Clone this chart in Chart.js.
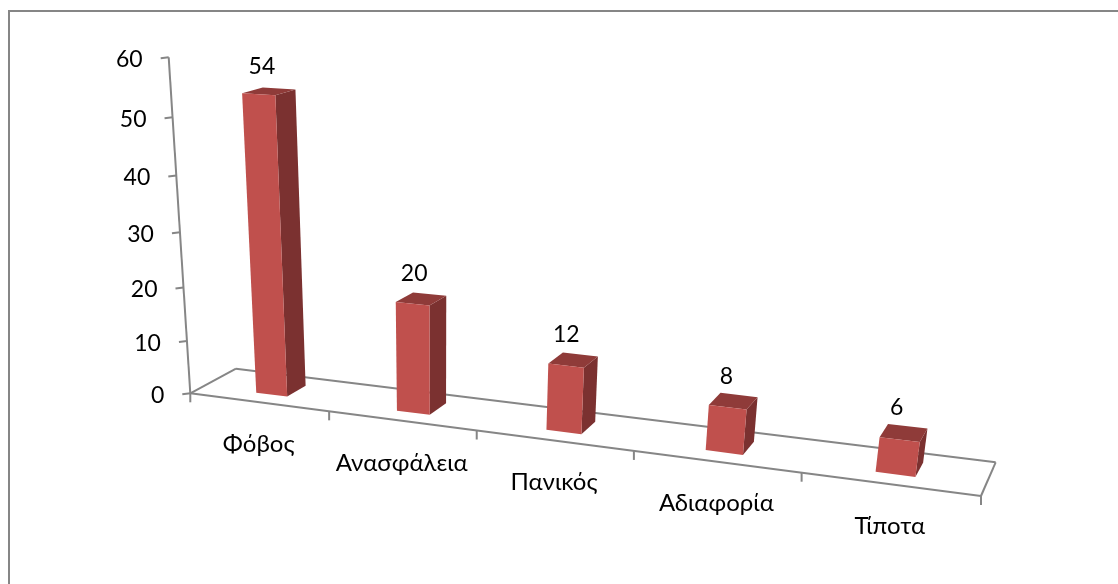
<!DOCTYPE html>
<html>
<head>
<meta charset="utf-8">
<title>Chart</title>
<style>
    html, body { margin: 0; padding: 0; background: #ffffff; }
    canvas { display: block; }
</style>
<script src="https://cdn.jsdelivr.net/npm/chart.js@4"></script>
</head>
<body>
<canvas id="chart" width="1118" height="584"></canvas>
<script>
const categories = ["Φόβος", "Ανασφάλεια", "Πανικός", "Αδιαφορία", "Τίποτα"];
const values = [54, 20, 12, 8, 6];
const axisMax = 60;
const axisStep = 10;

const LABEL_FONT = '24px Lato, "Noto Sans", sans-serif';
const NUMBER_FONT = '23px Lato, "Noto Sans", sans-serif';
const AXIS_COLOR = "#868686";
const BAR_FRONT = "#c0504d";
const BAR_SIDE = "#7b3130";
const BAR_TOP = "#8f3b39";
// depth of the bars on the floor, 0 = front edge, 1 = back edge
const BAR_DEPTH = [0.29, 0.72];

// Perspective camera: u along the category axis, v up the value axis, z into the floor (all 0..1)
function project(u, v, z) {
    const d = -0.148 * u - 0.08 * v + 0.0437 * z + 1;
    return [
        (645.5 * u - 35.1 * v + 56 * z + 190.3) / d,
        (29.3 * u - 340.6 * v - 8.5 * z + 393.3) / d,
    ];
}

function polygon(ctx, points, fill) {
    ctx.beginPath();
    points.forEach((p, i) => (i ? ctx.lineTo(p[0], p[1]) : ctx.moveTo(p[0], p[1])));
    ctx.closePath();
    ctx.fillStyle = fill;
    ctx.fill();
}

function segment(ctx, a, b) {
    ctx.beginPath();
    ctx.moveTo(a[0], a[1]);
    ctx.lineTo(b[0], b[1]);
    ctx.stroke();
}

const perspective3d = {
    id: "perspective3d",
    // frame, floor and both axes go under the bars
    beforeDatasetsDraw(chart) {
        const { ctx, scales } = chart;
        const { x: xScale, y: yScale } = scales;
        ctx.save();
        ctx.strokeStyle = AXIS_COLOR;

        // outer frame, the picture cuts it off at the right and the bottom
        ctx.lineWidth = 2;
        ctx.beginPath();
        ctx.moveTo(9, 584);
        ctx.lineTo(9, 11);
        ctx.lineTo(1118, 11);
        ctx.stroke();

        // floor outline
        segment(ctx, project(0, 0, 0), project(1, 0, 0));
        segment(ctx, project(1, 0, 0), project(1, 0, 1));
        segment(ctx, project(1, 0, 1), project(0, 0, 1));
        segment(ctx, project(0, 0, 1), project(0, 0, 0));

        // value axis
        segment(ctx, project(0, 0, 0), project(0, 1, 0));
        ctx.font = NUMBER_FONT;
        ctx.fillStyle = "#000000";
        ctx.textAlign = "right";
        ctx.textBaseline = "middle";
        yScale.ticks.forEach((tick) => {
            const v = (yScale.bottom - yScale.getPixelForValue(tick.value)) / (yScale.bottom - yScale.top);
            const p = project(0, v, 0);
            segment(ctx, p, [p[0] - 8, p[1] + 1]);
            ctx.fillText(String(tick.value), p[0] - 26, p[1] + 2);
        });

        // category axis: ticks between the categories, labels in the middle
        const uOf = (px) => (px - xScale.left) / (xScale.right - xScale.left);
        ctx.font = LABEL_FONT;
        ctx.textAlign = "center";
        categories.forEach((name, i) => {
            const half = (xScale.getPixelForValue(1) - xScale.getPixelForValue(0)) / 2;
            const px = xScale.getPixelForValue(i);
            const tick = project(uOf(px - half), 0, 0);
            segment(ctx, tick, [tick[0], tick[1] + 9]);
            const mid = project(uOf(px), 0, 0);
            ctx.fillText(name, mid[0], mid[1] + 42);
            if (i === categories.length - 1) {
                const end = project(uOf(px + half), 0, 0);
                segment(ctx, end, [end[0], end[1] + 9]);
            }
        });
        ctx.restore();
    },
    // bars are drawn as boxes from the elements the bar controller laid out
    beforeDatasetDraw(chart, args) {
        const { ctx, scales } = chart;
        const { x: xScale, y: yScale } = scales;
        const uOf = (px) => (px - xScale.left) / (xScale.right - xScale.left);
        const vOf = (py) => (yScale.bottom - py) / (yScale.bottom - yScale.top);
        const [z0, z1] = BAR_DEPTH;
        ctx.save();
        args.meta.data.forEach((bar, i) => {
            const u0 = uOf(bar.x - bar.width / 2);
            const u1 = uOf(bar.x + bar.width / 2);
            const v0 = vOf(bar.base);
            const v1 = vOf(bar.y);
            polygon(ctx, [project(u1, v0, z0), project(u1, v0, z1), project(u1, v1, z1), project(u1, v1, z0)], BAR_SIDE);
            polygon(ctx, [project(u0, v1, z0), project(u1, v1, z0), project(u1, v1, z1), project(u0, v1, z1)], BAR_TOP);
            polygon(ctx, [project(u0, v0, z0), project(u1, v0, z0), project(u1, v1, z0), project(u0, v1, z0)], BAR_FRONT);

            const top = project(uOf(bar.x), v1, (z0 + z1) / 2);
            ctx.font = NUMBER_FONT;
            ctx.fillStyle = "#000000";
            ctx.textAlign = "center";
            ctx.textBaseline = "middle";
            ctx.fillText(String(values[i]), top[0] - 7, top[1] - 25);
        });
        ctx.restore();
        return false;
    },
};

new Chart(document.getElementById("chart"), {
    type: "bar",
    data: {
        labels: categories,
        datasets: [
            {
                data: values,
                backgroundColor: BAR_FRONT,
                categoryPercentage: 1,
                barPercentage: 0.225,
            },
        ],
    },
    options: {
        responsive: false,
        animation: false,
        devicePixelRatio: 1,
        plugins: {
            legend: { display: false },
            tooltip: { enabled: false },
        },
        scales: {
            x: { display: false },
            y: {
                display: false,
                min: 0,
                max: axisMax,
                ticks: { stepSize: axisStep },
            },
        },
    },
    plugins: [perspective3d],
});
</script>
</body>
</html>
